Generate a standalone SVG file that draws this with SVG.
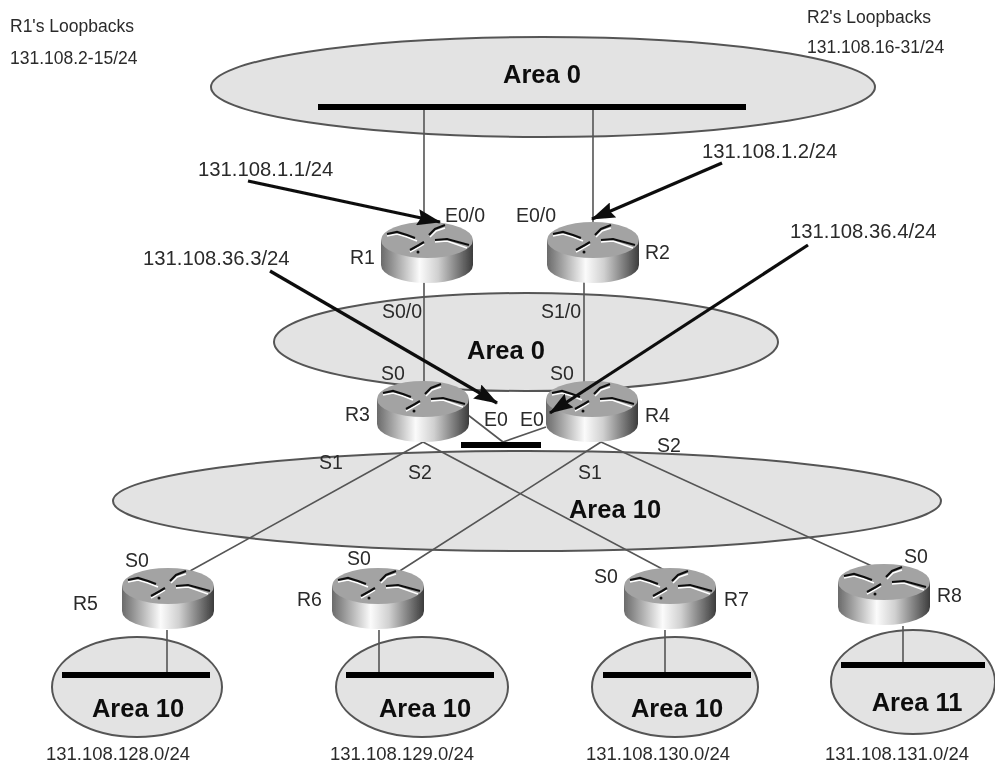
<svg xmlns="http://www.w3.org/2000/svg" width="995" height="766" viewBox="0 0 995 766">
<style>
text{font-family:"Liberation Sans",Arial,sans-serif;fill:#2a2a2a}
.l{font-size:19.5px}
.s{font-size:17.5px}
.ip{font-size:20.3px}
.ib{font-size:18.5px}
.a{font-size:25.5px;font-weight:bold;fill:#111;text-anchor:middle}
.e{fill:#e3e3e3;stroke:#555;stroke-width:2}
.c{stroke:#555;stroke-width:1.6;fill:none}
.b{stroke:#000;stroke-width:6;fill:none}
.k{stroke:#111;stroke-width:3.2;fill:none;marker-end:url(#h)}
.gd{stroke:#111;stroke-width:2.2;fill:none}
.gw{stroke:#fff;stroke-width:1.6;fill:none}
</style>
<defs>
<filter id="soft" x="0" y="0" width="100%" height="100%"><feGaussianBlur stdDeviation="0.6"/></filter>
<linearGradient id="g" x1="0" x2="1" y1="0" y2="0">
<stop offset="0" stop-color="#6a6a6a"/><stop offset="0.42" stop-color="#fbfbfb"/><stop offset="0.62" stop-color="#d0d0d0"/><stop offset="1" stop-color="#3c3c3c"/>
</linearGradient>
<marker id="h" viewBox="0 0 22 15" refX="21" refY="7.5" markerWidth="7.5" markerHeight="5.1" orient="auto"><path d="M0 0L22 7.5L0 15L3 7.5Z" fill="#111"/></marker>
<symbol id="router" overflow="visible">
<path d="M-46 18V43A46 18 0 0 0 46 43V18Z" fill="url(#g)"/>
<ellipse cx="0" cy="18" rx="46" ry="18" fill="#a3a3a3"/>
<path class="gw" d="M-40 14L-30 12L-20 15L-10 19M3 15L9 9L18 6M8 20L20 19L40 26M-17 30L-8 25L-3 22"/>
<path class="gd" d="M-40 12L-30 10L-20 13L-12 16M2 13L8 7L18 3M8 18L20 17L42 23M-17 28L-8 23L-3 20"/>
<circle cx="-9" cy="30" r="1.5" fill="#111"/>
</symbol>
</defs>
<rect width="995" height="766" fill="#fff"/>
<g filter="url(#soft)">
<g id="areas">
<g id="area0-top"><ellipse class="e" cx="543" cy="87" rx="332" ry="50"/></g>
<g id="area0-mid"><ellipse class="e" cx="526" cy="342" rx="252" ry="49"/></g>
<g id="area10-mid"><ellipse class="e" cx="527" cy="501" rx="414" ry="50"/></g>
<g id="area10-a"><ellipse class="e" cx="137" cy="687" rx="85" ry="50"/></g>
<g id="area10-b"><ellipse class="e" cx="422" cy="687" rx="86" ry="50"/></g>
<g id="area10-c"><ellipse class="e" cx="675" cy="687" rx="83" ry="50"/></g>
<g id="area11"><ellipse class="e" cx="913" cy="682" rx="82" ry="52"/></g>
</g>
<g id="connectors">
<path class="c" d="M424 107V225M593 107V225M424 280V385M584 280V385"/>
<path class="c" d="M423 442L190 571M423 442L668 572M601 442L395 574M601 442L885 572"/>
<path class="c" d="M468 415L503 442M546 427L503 442"/>
<path class="c" d="M167 630V675M379 630V675M665 630V675M903 626V665"/>
</g>
<g id="buses">
<path class="b" d="M318 107H746M461 445H541M62 675H210M346 675H494M603 675H751M841 665H985"/>
</g>
<g id="R1"><use href="#router" x="427" y="222"/><text class="l" x="350" y="264">R1</text></g>
<g id="R2"><use href="#router" x="593" y="222"/><text class="l" x="645" y="259">R2</text></g>
<g id="R3"><use href="#router" x="423" y="381"/><text class="l" x="345" y="421">R3</text></g>
<g id="R4"><use href="#router" x="592" y="381"/><text class="l" x="645" y="422">R4</text></g>
<g id="R5"><use href="#router" x="168" y="568"/><text class="l" x="73" y="610">R5</text></g>
<g id="R6"><use href="#router" x="378" y="568"/><text class="l" x="297" y="606">R6</text></g>
<g id="R7"><use href="#router" x="670" y="568"/><text class="l" x="724" y="606">R7</text></g>
<g id="R8"><use href="#router" x="884" y="564"/><text class="l" x="937" y="602">R8</text></g>
<g id="arrows">
<path class="k" d="M248 181L440 222"/>
<path class="k" d="M722 163L592 219"/>
<path class="k" d="M270 271L497 403"/>
<path class="k" d="M808 245L550 413"/>
</g>
<g id="labels">
<text class="a" x="542" y="83">Area 0</text>
<text class="a" x="506" y="359">Area 0</text>
<text class="a" x="615" y="518">Area 10</text>
<text class="a" x="138" y="717">Area 10</text>
<text class="a" x="425" y="717">Area 10</text>
<text class="a" x="677" y="717">Area 10</text>
<text class="a" x="917" y="711">Area 11</text>
<text class="s" x="10" y="32">R1's Loopbacks</text>
<text class="s" x="10" y="64">131.108.2-15/24</text>
<text class="s" x="807" y="23">R2's Loopbacks</text>
<text class="s" x="807" y="53">131.108.16-31/24</text>
<text class="ip" x="198" y="176">131.108.1.1/24</text>
<text class="ip" x="702" y="158">131.108.1.2/24</text>
<text class="ip" x="143" y="265">131.108.36.3/24</text>
<text class="ip" x="790" y="238">131.108.36.4/24</text>
<text class="ib" x="46" y="760">131.108.128.0/24</text>
<text class="ib" x="330" y="760">131.108.129.0/24</text>
<text class="ib" x="586" y="760">131.108.130.0/24</text>
<text class="ib" x="825" y="760">131.108.131.0/24</text>
<text class="l" x="445" y="222">E0/0</text>
<text class="l" x="516" y="222">E0/0</text>
<text class="l" x="382" y="318">S0/0</text>
<text class="l" x="541" y="318">S1/0</text>
<text class="l" x="381" y="380">S0</text>
<text class="l" x="550" y="380">S0</text>
<text class="l" x="484" y="426">E0</text>
<text class="l" x="520" y="426">E0</text>
<text class="l" x="319" y="469">S1</text>
<text class="l" x="408" y="479">S2</text>
<text class="l" x="578" y="479">S1</text>
<text class="l" x="657" y="452">S2</text>
<text class="l" x="125" y="567">S0</text>
<text class="l" x="347" y="565">S0</text>
<text class="l" x="594" y="583">S0</text>
<text class="l" x="904" y="563">S0</text>
</g>
</g>
</svg>
